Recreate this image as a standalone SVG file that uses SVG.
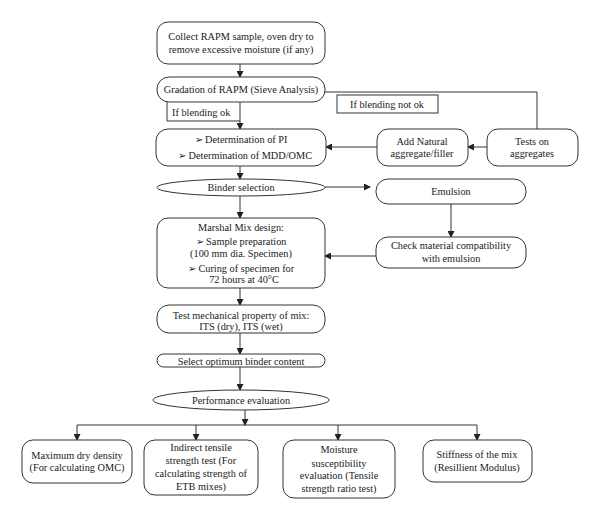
<svg xmlns="http://www.w3.org/2000/svg" width="600" height="520" viewBox="0 0 600 520">
<defs>
<marker id="ah" markerWidth="7" markerHeight="7" refX="6" refY="3.5" orient="auto" markerUnits="userSpaceOnUse">
<path d="M0,0 L7,3.5 L0,7 Z" fill="#222"/>
</marker>
<style>
.n{fill:#fff;stroke:#333;stroke-width:1}
.b{fill:#fff;stroke:#333;stroke-width:1}
.c{fill:none;stroke:#333;stroke-width:1}
.a{fill:none;stroke:#333;stroke-width:1;marker-end:url(#ah)}
text{font-family:"Liberation Serif","DejaVu Serif",serif;font-size:10.3px;fill:#1a1a1a}
.m{text-anchor:middle}
</style>
</defs>
<rect width="600" height="520" fill="#fff"/>
<g id="connectors">
<path class="a" d="M240,64 V77"/>
<path class="c" d="M325,92 H537 V129"/>
<path class="a" d="M240,102 V129"/>
<path class="a" d="M487,147 H468"/>
<path class="a" d="M377,147 H326"/>
<path class="a" d="M240,166 V179"/>
<path class="a" d="M325,187 H370"/>
<path class="a" d="M451,204 V237"/>
<path class="a" d="M376,256 H325"/>
<path class="a" d="M240,196 V218"/>
<path class="a" d="M240,288 V305"/>
<path class="a" d="M240,333 V354"/>
<path class="a" d="M240,367 V390"/>
<path class="a" d="M245,410 V425"/>
<path class="c" d="M77,425 H477"/>
<path class="a" d="M77,425 V440"/>
<path class="a" d="M196,425 V440"/>
<path class="a" d="M338,425 V440"/>
<path class="a" d="M477,425 V440"/>
</g>
<g id="n1"><rect class="n" x="157" y="22" width="168" height="42" rx="11"/>
<text class="m" x="241" y="40">Collect RAPM sample, oven dry to</text>
<text class="m" x="241" y="53">remove excessive moisture (if any)</text></g>
<g id="n2"><rect class="n" x="157" y="77" width="168" height="25" rx="12"/>
<text class="m" x="241" y="93">Gradation of RAPM (Sieve Analysis)</text></g>
<g id="lbl-ok"><path class="c" d="M167,102 V121 H240"/>
<text x="172" y="116">If blending ok</text></g>
<g id="lbl-notok"><rect class="b" x="337" y="95" width="101" height="18"/>
<text class="m" x="387" y="108">If blending not ok</text></g>
<g id="n3"><rect class="n" x="156" y="129" width="170" height="37" rx="12"/>
<text class="m" x="241" y="143">➢ Determination of PI</text>
<text class="m" x="245" y="159">➢ Determination of MDD/OMC</text></g>
<g id="n4"><rect class="n" x="377" y="129" width="91" height="37" rx="11"/>
<text class="m" x="422" y="145">Add Natural</text>
<text class="m" x="422" y="157">aggregate/filler</text></g>
<g id="n5"><rect class="n" x="487" y="129" width="91" height="37" rx="11"/>
<text class="m" x="532" y="145">Tests on</text>
<text class="m" x="532" y="157">aggregates</text></g>
<g id="n6"><ellipse class="n" cx="241" cy="187.5" rx="84" ry="8.5"/>
<text class="m" x="241" y="191">Binder selection</text></g>
<g id="n7"><rect class="n" x="376" y="179" width="150" height="25" rx="12"/>
<text class="m" x="451" y="195">Emulsion</text></g>
<g id="n8"><rect class="n" x="376" y="237" width="150" height="31" rx="12"/>
<text class="m" x="451" y="249">Check material compatibility</text>
<text class="m" x="451" y="262">with emulsion</text></g>
<g id="n9"><rect class="n" x="157" y="218" width="168" height="70" rx="11"/>
<text class="m" x="241" y="231">Marshal Mix design:</text>
<text class="m" x="241" y="245">➢ Sample preparation</text>
<text class="m" x="241" y="257">(100 mm dia. Specimen)</text>
<text class="m" x="241" y="272">➢ Curing of specimen for</text>
<text class="m" x="244" y="283">72 hours at 40°C</text></g>
<g id="n10"><rect class="n" x="157" y="305" width="168" height="28" rx="12"/>
<text class="m" x="241" y="319">Test mechanical property of mix:</text>
<text class="m" x="241" y="330">ITS (dry), ITS (wet)</text></g>
<g id="n11"><rect class="n" x="157" y="354" width="168" height="13" rx="6.5"/>
<text class="m" x="241" y="364.5">Select optimum binder content</text></g>
<g id="n12"><ellipse class="n" cx="241" cy="400" rx="88" ry="10"/>
<text class="m" x="241" y="404">Performance evaluation</text></g>
<g id="n13"><rect class="n" x="22" y="440" width="110" height="43" rx="11"/>
<text class="m" x="77" y="459">Maximum dry density</text>
<text class="m" x="77" y="471">(For calculating OMC)</text></g>
<g id="n14"><rect class="n" x="144" y="440" width="114" height="55" rx="11"/>
<text class="m" x="201" y="451">Indirect tensile</text>
<text class="m" x="201" y="464">strength test (For</text>
<text class="m" x="201" y="477">calculating strength of</text>
<text class="m" x="201" y="490">ETB mixes)</text></g>
<g id="n15"><rect class="n" x="283" y="440" width="112" height="58" rx="11"/>
<text class="m" x="339" y="453">Moisture</text>
<text class="m" x="339" y="467">susceptibility</text>
<text class="m" x="339" y="479">evaluation (Tensile</text>
<text class="m" x="339" y="492">strength ratio test)</text></g>
<g id="n16"><rect class="n" x="423" y="440" width="109" height="42" rx="11"/>
<text class="m" x="477" y="458">Stiffness of the mix</text>
<text class="m" x="477" y="471">(Resillient Modulus)</text></g>
</svg>
